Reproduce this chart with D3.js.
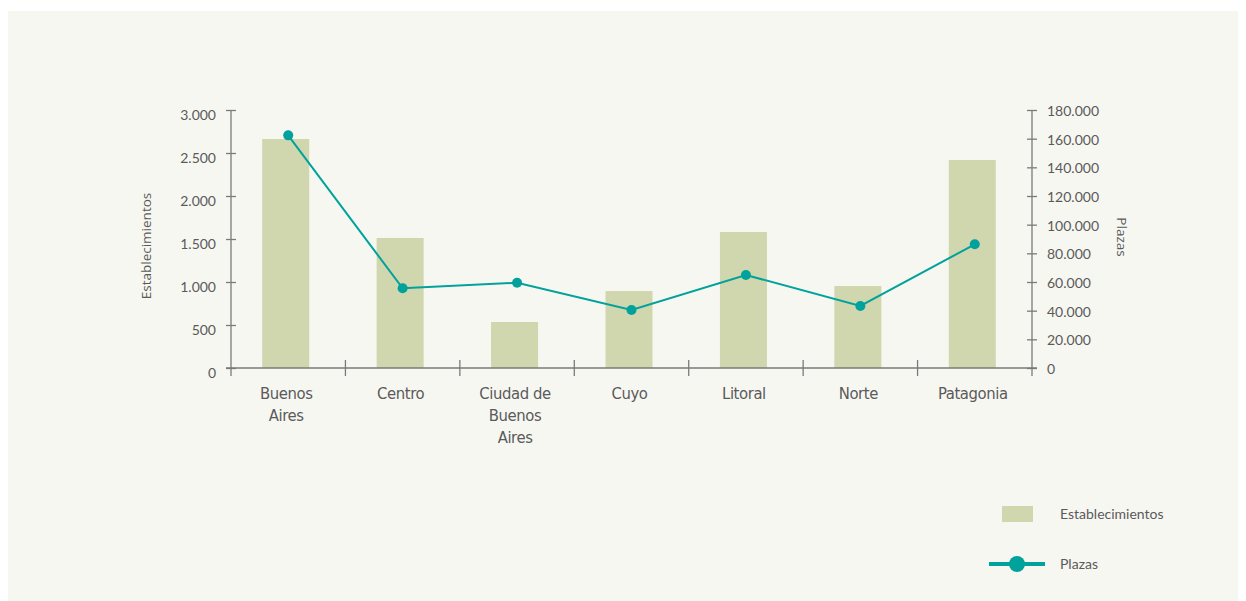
<!DOCTYPE html>
<html><head><meta charset="utf-8">
<script src="https://cdn.jsdelivr.net/npm/d3@7"></script>
<style>
html,body{margin:0;padding:0;background:#fff;}
svg{display:block;}
</style></head>
<body>
<svg id="chart" width="1246" height="601"></svg>
<script>
const categories = [["Buenos","Aires"],["Centro"],["Ciudad de","Buenos","Aires"],["Cuyo"],["Litoral"],["Norte"],["Patagonia"]];
const categoryKeys = ["Buenos Aires","Centro","Ciudad de Buenos Aires","Cuyo","Litoral","Norte","Patagonia"];
const establecimientos = [2663, 1512, 535, 895, 1581, 953, 2419];
const plazas = [162300, 55600, 59500, 40500, 64900, 43300, 86300];
const leftTicks = [0,500,1000,1500,2000,2500,3000];
const rightTicks = [0,20000,40000,60000,80000,100000,120000,140000,160000,180000];
const seriesNames = ["Establecimientos","Plazas"];

const svg = d3.select("#chart");
const fmt = v => d3.format(",")(v).replace(/,/g,".");
const axisColor = "#7a7a7a", textColor = "#5a5a5a";
const barColor = "#d0d6ad", lineColor = "#00a29b";

svg.append("rect").attr("x",8).attr("y",11).attr("width",1230).attr("height",590).attr("fill","#f7f7f2");

const x0 = 231, x1 = 1032, yTop = 110, yBot = 368;
const x = d3.scaleBand().domain(categoryKeys).range([x0,x1]);
const yL = d3.scaleLinear().domain([0,3000]).range([yBot,yTop]);
const yR = d3.scaleLinear().domain([0,180000]).range([yBot,yTop]);

// bars
const barW = 47;
svg.append("g").selectAll("rect").data(establecimientos).join("rect")
  .attr("x",(d,i)=>x(categoryKeys[i])+x.bandwidth()/2-2.5-barW/2)
  .attr("width",barW)
  .attr("y",d=>yL(d))
  .attr("height",d=>yBot-yL(d))
  .attr("fill",barColor);

// left axis
const gL = svg.append("g").attr("transform",`translate(${x0},0)`)
  .call(d3.axisLeft(yL).tickValues(leftTicks).tickFormat(fmt).tickSizeInner(5).tickSizeOuter(0).tickPadding(10));
gL.select(".domain").remove();
gL.selectAll(".tick line").attr("x1",5).attr("x2",-5).attr("stroke",axisColor).attr("stroke-width",1.3);
gL.selectAll(".tick text").attr("fill",textColor).style("font-family","Lato, 'Open Sans', sans-serif").style("font-size","14px").attr("dy","0.65em");
svg.append("line").attr("x1",x0).attr("x2",x0).attr("y1",yTop).attr("y2",yBot+8).attr("stroke",axisColor).attr("stroke-width",1.3);

// right axis
const gR = svg.append("g").attr("transform",`translate(${x1},0)`)
  .call(d3.axisRight(yR).tickValues(rightTicks).tickFormat(fmt).tickSizeInner(5).tickSizeOuter(0).tickPadding(10));
gR.select(".domain").remove();
gR.selectAll(".tick line").attr("x1",-5).attr("x2",5).attr("stroke",axisColor).attr("stroke-width",1.3);
gR.selectAll(".tick text").attr("fill",textColor).style("font-family","Lato, 'Open Sans', sans-serif").style("font-size","14px").attr("dy","0.4em");
svg.append("line").attr("x1",x1).attr("x2",x1).attr("y1",yTop).attr("y2",yBot+8).attr("stroke",axisColor).attr("stroke-width",1.3);

// x axis
svg.append("line").attr("x1",x0-5).attr("x2",x1+5).attr("y1",yBot).attr("y2",yBot).attr("stroke",axisColor).attr("stroke-width",1.3);
const seps = categoryKeys.map(k=>x(k)).concat([x1]);
svg.append("g").selectAll("line").data(seps.slice(1,-1)).join("line")
  .attr("x1",d=>d).attr("x2",d=>d).attr("y1",yBot-8).attr("y2",yBot+8)
  .attr("stroke",axisColor).attr("stroke-width",1.3);
const labG = svg.append("g");
categories.forEach((lines,i)=>{
  const cx = x(categoryKeys[i])+x.bandwidth()/2-2;
  const t = labG.append("text").attr("text-anchor","middle")
    .attr("x",cx).attr("y",399).attr("fill",textColor)
    .style("font-family","'DejaVu Sans', sans-serif")
    .style("font-stretch","condensed")
    .style("letter-spacing","-0.4px")
    .style("font-size","16.5px");
  lines.forEach((l,j)=>t.append("tspan").attr("x",cx).attr("dy",j?22:0).text(l));
});

// line
const pts = plazas.map((v,i)=>[x(categoryKeys[i])+x.bandwidth()/2, yR(v)]);
svg.append("path").attr("d",d3.line()(pts)).attr("fill","none").attr("stroke",lineColor).attr("stroke-width",2);
svg.append("g").selectAll("circle").data(pts).join("circle")
  .attr("cx",d=>d[0]).attr("cy",d=>d[1]).attr("r",5).attr("fill",lineColor);

// axis titles
svg.append("text").attr("transform","translate(151,246) rotate(-90)").attr("text-anchor","middle")
  .attr("fill",textColor).style("font-family","'Open Sans', sans-serif").style("font-size","13.5px").text(seriesNames[0]);
svg.append("text").attr("transform","translate(1117,237) rotate(90)").attr("text-anchor","middle")
  .attr("fill",textColor).style("font-family","'Open Sans', sans-serif").style("font-size","13.5px").text(seriesNames[1]);

// legend
svg.append("rect").attr("x",1002).attr("y",506).attr("width",31).attr("height",16).attr("fill",barColor);
svg.append("text").attr("x",1060).attr("y",519).attr("fill",textColor)
  .style("font-family","Lato, 'Open Sans', sans-serif").style("font-size","14px").text(seriesNames[0]);
svg.append("line").attr("x1",989).attr("x2",1045).attr("y1",564).attr("y2",564).attr("stroke",lineColor).attr("stroke-width",4);
svg.append("circle").attr("cx",1017).attr("cy",564).attr("r",8).attr("fill",lineColor);
svg.append("text").attr("x",1060).attr("y",569).attr("fill",textColor)
  .style("font-family","Lato, 'Open Sans', sans-serif").style("font-size","14px").text(seriesNames[1]);
</script>
</body></html>
